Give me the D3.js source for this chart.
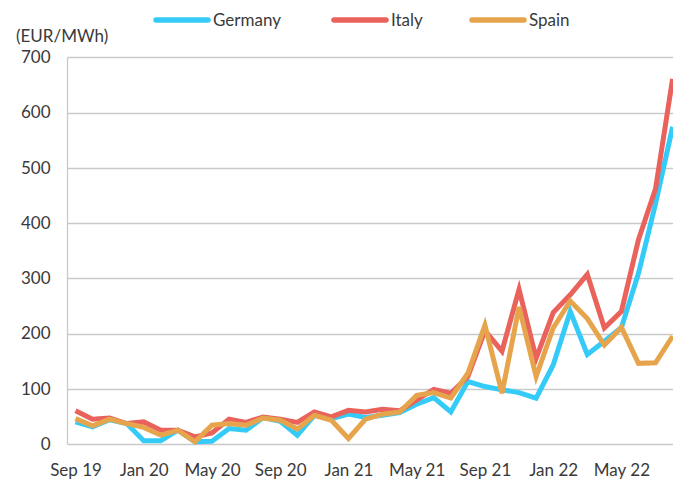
<!DOCTYPE html>
<html>
<head>
<meta charset="utf-8">
<script src="https://cdn.jsdelivr.net/npm/d3@7"></script>
<style>
  body { margin: 0; background: #fff; }
  text { font-family: Lato, "Open Sans", sans-serif; fill: #3a3a3a; }
</style>
</head>
<body>
<div id="chart"></div>
<script>
// monthly prices, Sep 19 .. Aug 22 (EUR/MWh)
var months = ["Sep 19","Oct 19","Nov 19","Dec 19","Jan 20","Feb 20","Mar 20","Apr 20",
  "May 20","Jun 20","Jul 20","Aug 20","Sep 20","Oct 20","Nov 20","Dec 20",
  "Jan 21","Feb 21","Mar 21","Apr 21","May 21","Jun 21","Jul 21","Aug 21",
  "Sep 21","Oct 21","Nov 21","Dec 21","Jan 22","Feb 22","Mar 22","Apr 22",
  "May 22","Jun 22","Jul 22","Aug 22"];

var germany = [40,31,44,37,6,6,25,4,5,28,25,48,41,16,52,46,54,48,52,57,
  72,84,58,113,104,98,93,83,143,240,162,186,211,309,435,574];
var italy = [60,45,47,37,40,25,25,13,20,45,39,49,45,39,58,49,61,58,63,60,
  80,99,92,122,205,168,280,155,238,270,307,210,240,370,462,661];
var spain = [46,33,45,37,30,16,25,4,34,37,34,47,43,27,52,43,10,45,54,58,
  88,93,83,128,215,92,248,122,210,259,227,179,211,146,147,195];

var xTicks = ["Sep 19","Jan 20","May 20","Sep 20","Jan 21","May 21","Sep 21","Jan 22","May 22"];
var yTicks = [0,100,200,300,400,500,600,700];

var series = [
  {name: "Germany", values: germany, color: "#35CBF9"},
  {name: "Italy", values: italy, color: "#E9625B"},
  {name: "Spain", values: spain, color: "#E6A54C"}
];

var width = 673, height = 479;
var plotLeft = 67.5, plotRight = 673, plotTop = 57.3, plotBottom = 444;

var svg = d3.select("#chart").append("svg")
    .attr("width", width)
    .attr("height", height);

var x = d3.scalePoint().domain(months).range([75.5, 672.6]);
var y = d3.scaleLinear().domain([0, 700]).range([plotBottom, plotTop]);

// horizontal grid
svg.append("g").selectAll("line")
    .data(yTicks)
    .join("line")
    .attr("x1", plotLeft)
    .attr("x2", plotRight)
    .attr("y1", function(d) { return Math.round(y(d)) + 0.5; })
    .attr("y2", function(d) { return Math.round(y(d)) + 0.5; })
    .style("stroke", "#c9c9c9")
    .style("stroke-width", 1.3);

// left axis line
svg.append("line")
    .attr("x1", plotLeft).attr("x2", plotLeft)
    .attr("y1", Math.round(y(700)) + 0.5).attr("y2", Math.round(y(0)) + 0.5)
    .style("stroke", "#c9c9c9")
    .style("stroke-width", 1.3);

var yAxis = svg.append("g")
    .attr("transform", "translate(" + plotLeft + ",0)")
    .call(d3.axisLeft(y).tickValues(yTicks).tickSize(0).tickPadding(17));
yAxis.select(".domain").remove();
yAxis.selectAll("text").style("font-size", "17px").style("font-family", "Lato").style("fill", "#3a3a3a");

var xAxis = svg.append("g")
    .attr("transform", "translate(0," + plotBottom + ")")
    .call(d3.axisBottom(x).tickValues(xTicks).tickSize(0).tickPadding(20));
xAxis.select(".domain").remove();
xAxis.selectAll("text").style("font-size", "17px").style("font-family", "Lato").style("fill", "#3a3a3a");

svg.append("text")
    .attr("x", 16)
    .attr("y", 42)
    .style("font-size", "17px")
    .text("(EUR/MWh)");

var line = d3.line()
    .x(function(d, i) { return x(months[i]); })
    .y(function(d) { return y(d); });

series.forEach(function(s) {
  svg.append("path")
      .datum(s.values)
      .attr("d", line)
      .style("fill", "none")
      .style("stroke", s.color)
      .style("stroke-width", 5);
});

// legend
var legendX = [154, 332, 470];
series.forEach(function(s, i) {
  var g = svg.append("g").attr("transform", "translate(" + legendX[i] + ",20)");
  g.append("line")
      .attr("x1", 2).attr("x2", 54)
      .attr("y1", 0).attr("y2", 0)
      .style("stroke", s.color)
      .style("stroke-width", 5.5)
      .style("stroke-linecap", "round");
  g.append("text")
      .attr("x", 59)
      .attr("y", 6)
      .style("font-size", "17px")
      .text(s.name);
});
</script>
</body>
</html>
